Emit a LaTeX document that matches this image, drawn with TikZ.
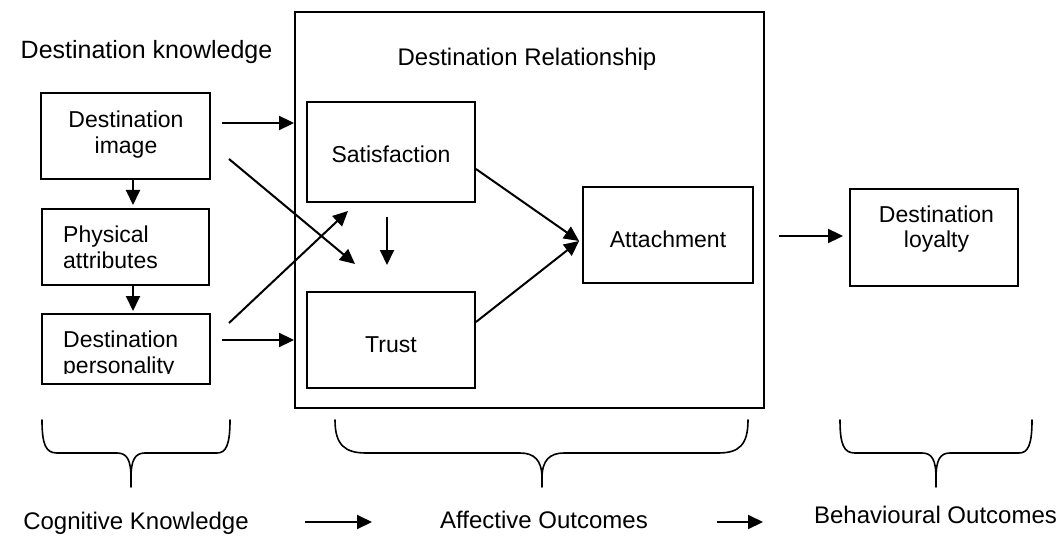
\documentclass[tikz,border=0pt]{standalone}
\usepackage{fontspec}
\setmainfont{Liberation Sans}
\usetikzlibrary{arrows.meta}
\tikzset{
  box/.style={draw, line width=1.9pt, inner sep=0pt},
  lbl/.style={inner sep=0pt, font=\fontsize{23}{26}\selectfont, align=center},
  head/.style={inner sep=0pt, font=\fontsize{25}{28}\selectfont},
  foot/.style={inner sep=0pt, font=\fontsize{24}{27}\selectfont},
  arr/.style={line width=2pt, -{Triangle[length=15pt,width=14pt]}},
  brc/.style={line width=1.6pt, line cap=round},
}
\begin{document}
\begin{tikzpicture}[x=1pt,y=-1pt]
\useasboundingbox (0,0) rectangle (1062,540);
\fill[white] (0,0) rectangle (1062,540);

% headings
\node[head, anchor=north] (kn) at (146.5,40) {Destination knowledge};
\node[head, anchor=north, font=\fontsize{24}{27}\selectfont] (relt) at (527,48) {Destination Relationship};

% relationship frame
\node[box, minimum width=469pt, minimum height=396pt] (rel) at (529.5,210) {};

% knowledge column
\node[box, minimum width=169pt, minimum height=86pt] (img) at (125.5,136) {};
\node[lbl, anchor=north] (imgt) at (126,111) {Destination\\image};
\node[box, minimum width=167pt, minimum height=76pt] (phys) at (125.5,247) {};
\node[lbl, align=left, anchor=north west] (physt) at (63,226) {Physical\\attributes};
\node[box, minimum width=168pt, minimum height=70pt] (pers) at (126,349) {};
\begin{scope}
  \clip (42,314) rectangle (210,373);
  \node[lbl, align=left, anchor=north west] (perst) at (63,331) {Destination\\personality};
\end{scope}

% relationship constructs
\node[box, minimum width=168pt, minimum height=100pt] (sat) at (391,152) {};
\node[lbl, anchor=north] (satt) at (391,146) {Satisfaction};
\node[box, minimum width=168pt, minimum height=96pt] (trust) at (391,340) {};
\node[lbl, anchor=north] (trustt) at (391,336) {Trust};
\node[box, minimum width=170pt, minimum height=96pt] (att) at (668,235) {};
\node[lbl, anchor=north] (attt) at (668,231) {Attachment};

% outcome
\node[box, minimum width=168pt, minimum height=97pt] (loy) at (934,237.5) {};
\node[lbl, anchor=north, font=\fontsize{23}{24.5}\selectfont] (loyt) at (936.5,206) {Destination\\loyalty};

% connectors in the knowledge column
\coordinate (v1) at (133,205);
\draw[arr] (img.south -| v1) -- (v1);
\coordinate (v2) at (133,311);
\draw[arr] (phys.south -| v2) -- (v2);

% knowledge -> relationship
\coordinate (s1) at (222,123);
\draw[arr] (s1) -- (s1 -| rel.west);
\coordinate (s2) at (222,340);
\draw[arr] (s2) -- (s2 -| rel.west);
\coordinate (d1s) at (229,159);
\coordinate (d1e) at (355,264);
\draw[arr] (d1s) -- (d1e);
\coordinate (d2s) at (229,323);
\coordinate (d2e) at (348,211);
\draw[arr] (d2s) -- (d2e);

% inside the relationship frame
\coordinate (v3s) at (387,217);
\coordinate (v3e) at (387,265);
\draw[arr] (v3s) -- (v3e);
\draw[arr] ([yshift=-17pt]sat.east) -- ([yshift=-6pt,xshift=-3pt]att.west);
\draw[arr] ([yshift=18pt]trust.east) -- ([yshift=-6pt,xshift=-3pt]att.west);

% relationship -> loyalty
\coordinate (q) at (779,236);
\draw[arr] (q) -- ([xshift=-6pt]q -| loy.west);

% braces
\draw[brc] (42,420) .. controls (42,445) and (46,453) .. (57,453) -- (117,453)
  .. controls (127,453) and (131,460) .. (131,478) -- (131,487);
\draw[brc] (131,478) .. controls (131,460) and (135,453) .. (145,453) -- (217,453)
  .. controls (226,453) and (230,445) .. (230,420);
\draw[brc] (335,420) .. controls (335,445) and (345,453) .. (366,453) -- (520,453)
  .. controls (534,453) and (542,460) .. (542,478) -- (542,487);
\draw[brc] (542,478) .. controls (542,460) and (550,453) .. (564,453) -- (718,453)
  .. controls (739,453) and (748,445) .. (748,420);
\draw[brc] (840,420) .. controls (840,445) and (844,453) .. (855,453) -- (922,453)
  .. controls (932,453) and (936,460) .. (936,478) -- (936,487);
\draw[brc] (936,478) .. controls (936,460) and (940,453) .. (950,453) -- (1019,453)
  .. controls (1028,453) and (1032,445) .. (1032,420);

% stage labels
\node[foot, anchor=north] (cog) at (136,512) {Cognitive Knowledge};
\node[foot, anchor=north] (aff) at (544,511) {Affective Outcomes};
\node[foot, anchor=north] (beh) at (935.5,506) {Behavioural Outcomes};
\coordinate (b1s) at (305,522);
\coordinate (b1e) at (372,522);
\draw[arr] (b1s) -- (b1e);
\coordinate (b2s) at (717,522);
\coordinate (b2e) at (763,522);
\draw[arr] (b2s) -- (b2e);
\end{tikzpicture}
\end{document}
